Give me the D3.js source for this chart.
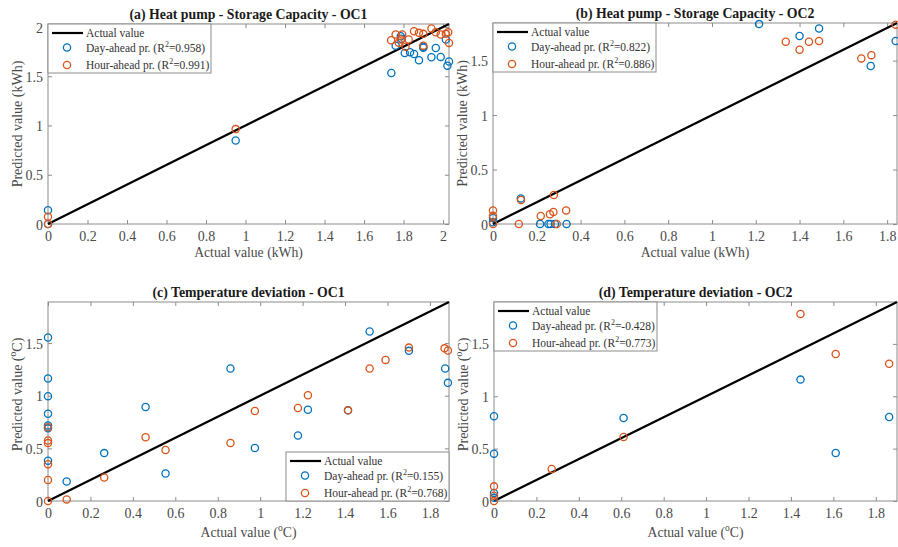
<!DOCTYPE html>
<html><head><meta charset="utf-8">
<script src="https://cdn.jsdelivr.net/npm/d3@7"></script>
<style>
body{margin:0;background:#fff;}
svg{display:block;font-family:"Liberation Serif","Times New Roman",serif;}
</style></head>
<body><svg id="chart" width="898" height="547"></svg>
<script>
// ---------- data ----------
const titles = ["(a) Heat pump - Storage Capacity - OC1", "(b) Heat pump - Storage Capacity - OC2",
                "(c) Temperature deviation - OC1", "(d) Temperature deviation - OC2"];
const r2Day  = ["0.958", "0.822", "0.155", "-0.428"];
const r2Hour = ["0.991", "0.886", "0.768", "0.773"];
const axisMax = [2.03, 1.845, 1.89, 1.9];
const xTickMax = [2.0, 1.8, 1.8, 1.8];
const yTicks = [[0, 0.5, 1, 1.5, 2], [0, 0.5, 1, 1.5], [0, 0.5, 1, 1.5], [0, 0.5, 1, 1.5]];
const unitKind = ["kWh", "kWh", "degC", "degC"];
const legendCorner = ["topleft", "topleft", "bottomright", "topleft"];

const aDay = [[0,0.14],[0,0],[0.95,0.847],[1.738,1.533],[1.76,1.81],[1.786,1.905],[1.79,1.88],[1.806,1.736],[1.833,1.743],[1.853,1.726],[1.878,1.662],[1.90,1.80],[1.90,1.79],[1.941,1.692],[1.963,1.787],[1.988,1.696],[2.014,1.872],[2.022,1.607],[2.03,1.65]];
const aHour = [[0,0.074],[0,0],[0.95,0.963],[1.737,1.865],[1.76,1.923],[1.776,1.84],[1.786,1.872],[1.793,1.923],[1.81,1.80],[1.826,1.872],[1.853,1.956],[1.878,1.94],[1.90,1.93],[1.90,1.81],[1.941,1.984],[1.963,1.946],[1.988,1.923],[2.014,1.93],[2.026,1.946],[2.03,1.838]];
const bDay = [[0,0.015],[0,0.055],[0.127,0.235],[0.215,0],[0.253,0],[0.263,0],[0.283,0],[0.336,0],[1.215,1.835],[1.40,1.725],[1.489,1.795],[1.725,1.45],[1.839,1.68]];
const bHour = [[0,0],[0,0.075],[0,0.125],[0.118,0],[0.128,0.22],[0.218,0.073],[0.26,0.09],[0.276,0.11],[0.278,0.266],[0.291,0],[0.334,0.125],[1.337,1.673],[1.40,1.60],[1.443,1.673],[1.489,1.68],[1.682,1.52],[1.728,1.55],[1.839,1.83]];
const cDay = [[0,1.553],[0,1.164],[0,0.995],[0,0.829],[0,0.718],[0,0.69],[0,0.383],[0.088,0.185],[0.265,0.455],[0.46,0.893],[0.554,0.261],[0.86,1.259],[0.975,0.503],[1.178,0.622],[1.225,0.867],[1.414,0.861],[1.516,1.61],[1.701,1.426],[1.872,1.259],[1.885,1.122]];
const cHour = [[0,0.70],[0,0.574],[0,0.55],[0,0.35],[0,0.20],[0,0],[0.088,0.015],[0.265,0.223],[0.46,0.606],[0.554,0.484],[0.86,0.551],[0.975,0.855],[1.178,0.883],[1.225,1.005],[1.414,0.861],[1.516,1.259],[1.591,1.34],[1.701,1.457],[1.869,1.45],[1.885,1.43]];
const dDay = [[0,0.81],[0,0.452],[0,0.076],[0,0.03],[0.611,0.793],[1.445,1.159],[1.611,0.458],[1.863,0.802]];
const dHour = [[0,0.14],[0,0.05],[0,0],[0.272,0.305],[0.611,0.611],[1.445,1.786],[1.611,1.404],[1.863,1.311]];
const daySeries = [aDay, bDay, cDay, dDay];
const hourSeries = [aHour, bHour, cHour, dHour];

// ---------- layout ----------
const boxes = [
  {l:48, r:449, t:24, b:224},
  {l:493, r:897, t:23, b:224},
  {l:48, r:449, t:302, b:501},
  {l:494, r:897, t:302, b:501}
];
const BLUE = "#0072BD", ORANGE = "#D95319";
const BOXC = "#8c8c8c", TXT = "#4a4a4a";
const svg = d3.select("#chart");

function fmt(v){ return String(+v.toFixed(1)); }

function unitText(sel, kind){
  if(kind === "kWh"){ sel.append("tspan").text("(kWh)"); }
  else {
    sel.append("tspan").text("(");
    sel.append("tspan").attr("font-size","9.5px").attr("dy",-6).text("o");
    sel.append("tspan").attr("dy",6).text("C)");
  }
}

boxes.forEach((bx, i) => {
  const g = svg.append("g");
  const x = d3.scaleLinear().domain([0, axisMax[i]]).range([bx.l, bx.r]);
  const y = d3.scaleLinear().domain([0, axisMax[i]]).range([bx.b, bx.t]);
  const xt = d3.range(0, xTickMax[i] + 1e-9, 0.2).map(v => +v.toFixed(1));
  const yt = yTicks[i];

  const ax = g.append("g").attr("transform", `translate(0,${bx.b})`)
    .call(d3.axisBottom(x).tickValues(xt).tickFormat(fmt).tickSizeInner(-4).tickSizeOuter(0).tickPadding(7));
  const axTop = g.append("g").attr("transform", `translate(0,${bx.t})`)
    .call(d3.axisTop(x).tickValues(xt).tickFormat("").tickSizeInner(-4).tickSizeOuter(0));
  const ay = g.append("g").attr("transform", `translate(${bx.l},0)`)
    .call(d3.axisLeft(y).tickValues(yt).tickFormat(fmt).tickSizeInner(-4).tickSizeOuter(0).tickPadding(5));
  const ayR = g.append("g").attr("transform", `translate(${bx.r},0)`)
    .call(d3.axisRight(y).tickValues(yt).tickFormat("").tickSizeInner(-4).tickSizeOuter(0));
  [ax, axTop, ay, ayR].forEach(a => {
    a.select(".domain").remove();
    a.selectAll(".tick line").attr("stroke", BOXC).attr("stroke-width", 1);
    a.selectAll(".tick text").attr("fill", TXT).attr("font-size", "14px")
      .attr("font-family", "Liberation Serif, serif");
  });
  ax.selectAll(".tick text").attr("dy", "0.71em");
  ay.selectAll(".tick text").attr("dy", "0.36em");

  g.append("rect").attr("x", bx.l).attr("y", bx.t).attr("width", bx.r - bx.l).attr("height", bx.b - bx.t)
    .attr("fill", "none").attr("stroke", BOXC).attr("stroke-width", 1);

  g.append("line").attr("x1", x(0)).attr("y1", y(0)).attr("x2", x(axisMax[i])).attr("y2", y(axisMax[i]))
    .attr("stroke", "#000").attr("stroke-width", 2.2);

  g.append("g").selectAll("circle").data(daySeries[i]).join("circle")
    .attr("cx", d => x(d[0])).attr("cy", d => y(d[1])).attr("r", 3.6)
    .attr("fill", "none").attr("stroke", BLUE).attr("stroke-width", 1.3);
  g.append("g").selectAll("circle").data(hourSeries[i]).join("circle")
    .attr("cx", d => x(d[0])).attr("cy", d => y(d[1])).attr("r", 3.6)
    .attr("fill", "none").attr("stroke", ORANGE).attr("stroke-width", 1.3);

  g.append("text").attr("x", (bx.l + bx.r) / 2).attr("y", bx.t - 5).attr("text-anchor", "middle")
    .attr("font-size", "13.8px").attr("font-weight", "bold").attr("fill", "#1a1a1a").text(titles[i]);

  const xl = g.append("text").attr("x", (bx.l + bx.r) / 2).attr("y", bx.b + (unitKind[i] === "kWh" ? 33 : 36))
    .attr("text-anchor", "middle").attr("font-size", "13.7px").attr("fill", TXT);
  xl.append("tspan").text("Actual value ");
  unitText(xl, unitKind[i]);

  const yShift = unitKind[i] === "kWh" ? 0 : -7;
  const yl = g.append("text").attr("transform", `translate(${bx.l - 26},${(bx.t + bx.b) / 2 + yShift}) rotate(-90)`)
    .attr("text-anchor", "middle").attr("font-size", "14px").attr("fill", TXT);
  yl.append("tspan").text("Predicted value ");
  unitText(yl, unitKind[i]);

  const lw = 163, lh = 49;
  const lx = legendCorner[i] === "topleft" ? bx.l : bx.r - lw;
  const ly = legendCorner[i] === "topleft" ? bx.t : bx.b - lh;
  const lg = g.append("g").attr("transform", `translate(${lx},${ly})`);
  lg.append("rect").attr("x", 0).attr("y", 0).attr("width", lw).attr("height", lh)
    .attr("fill", "#fff").attr("stroke", BOXC).attr("stroke-width", 1);
  const rows = [9, 23.5, 41];
  lg.append("line").attr("x1", 4).attr("x2", 35).attr("y1", rows[0]).attr("y2", rows[0])
    .attr("stroke", "#000").attr("stroke-width", 2.2);
  lg.append("circle").attr("cx", 19).attr("cy", rows[1]).attr("r", 3.6).attr("fill", "none")
    .attr("stroke", BLUE).attr("stroke-width", 1.3);
  lg.append("circle").attr("cx", 19).attr("cy", rows[2]).attr("r", 3.6).attr("fill", "none")
    .attr("stroke", ORANGE).attr("stroke-width", 1.3);
  const lt = (row, label, r2) => {
    const t = lg.append("text").attr("x", 38).attr("y", row + 4).attr("font-size", "11.5px").attr("fill", "#333");
    if (r2 === null) { t.text(label); return; }
    t.append("tspan").text(label + " (R");
    t.append("tspan").attr("font-size", "8px").attr("dy", -5).text("2");
    t.append("tspan").attr("dy", 5).text("=" + r2 + ")");
  };
  lt(rows[0], "Actual value", null);
  lt(rows[1], "Day-ahead pr.", r2Day[i]);
  lt(rows[2], "Hour-ahead pr.", r2Hour[i]);
});
</script>
</body></html>
